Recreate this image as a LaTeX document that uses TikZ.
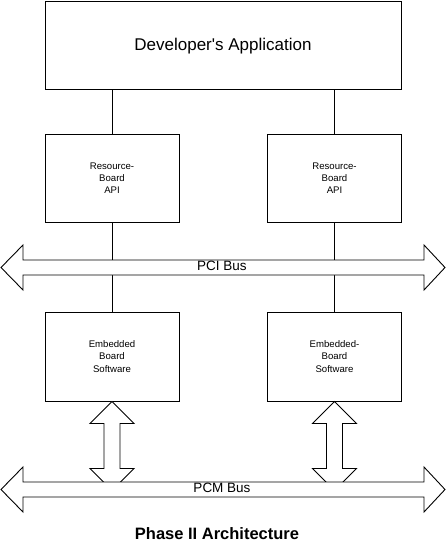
\documentclass[tikz,border=0pt]{standalone}
\usepackage{fontspec}
\setmainfont{Liberation Sans}[Ligatures=TeXOff]
\usepackage{tikz}
\usetikzlibrary{positioning}

\tikzset{
	box/.style = {draw, line width=0.9pt, minimum width=134pt, minimum height=88pt, inner sep=0pt, align=center, font=\fontsize{9.6}{12.3}\selectfont},
	bus/.style = {draw, line width=0.9pt, fill=white},
	link/.style = {line width=0.9pt}
}

\begin{document}
\begin{tikzpicture}[x=1pt, y=-1pt]
			\useasboundingbox (0, 0) rectangle (446, 549);
			% application
			\node[box, minimum width=356pt] (app) at (223, 45) {};
			\node[anchor=base, font=\fontsize{17}{18}\selectfont] (apptext) at (223, 50) {Developer's Application};
			% boards
			\node[box] (res1) at (112, 178) {Resource-\\Board\\API};
			\node[box] (res2) at (334.5, 178) {Resource-\\Board\\API};
			\node[box, minimum height=89pt] (emb1) at (112, 356.5) {Embedded\\Board\\Software};
			\node[box, minimum height=89pt] (emb2) at (334.5, 356.5) {Embedded-\\Board\\Software};
			% lines
			\foreach \i in {1, 2} {
				\draw[link] (app.south -| res\i) -- (res\i.north);
				\draw[link] (res\i.south) -- (emb\i.north);
			}
			% board to PCM bus
			\foreach \i in {1, 2} {
				\begin{scope}[shift={(emb\i.south)}]
					\draw[bus] (0, 0) -- (22, 22) -- (8, 22) -- (8, 67) -- (22, 67) -- (0, 89)
						-- (-22, 67) -- (-8, 67) -- (-8, 22) -- (-22, 22) -- cycle;
				\end{scope}
			}
			% buses
			\foreach \y/\busname in {267.5/pci, 489.5/pcm} {
				\draw[bus] (1, \y) -- (23, \y-22.5) -- (23, \y-7.5) -- (424, \y-7.5) -- (424, \y-22.5)
					-- (445, \y) -- (424, \y+22.5) -- (424, \y+7.5) -- (23, \y+7.5) -- (23, \y+22.5) -- cycle;
			}
			\node[anchor=base, font=\fontsize{13.5}{15}\selectfont] (pci) at (222, 270.5) {PCI Bus};
			\node[anchor=base, font=\fontsize{13.5}{15}\selectfont] (pcm) at (222, 492.5) {PCM Bus};
			% title
			\node[anchor=base, font=\fontsize{16.5}{18}\selectfont\bfseries] (title) at (217, 539) {Phase II Architecture};
		\end{tikzpicture}
\end{document}
